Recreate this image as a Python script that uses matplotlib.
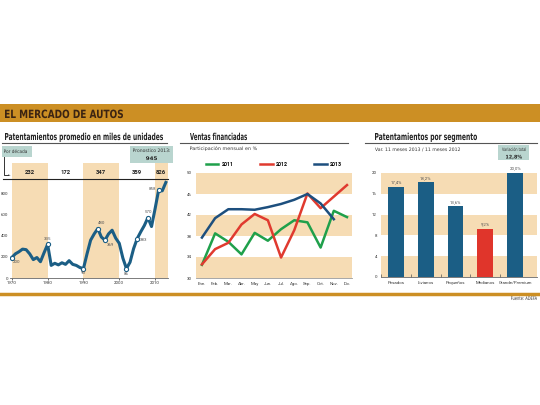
import matplotlib
matplotlib.use("Agg")
import matplotlib.pyplot as plt
from matplotlib.lines import Line2D
from matplotlib.patches import Rectangle, PathPatch
from matplotlib.textpath import TextPath
from matplotlib.font_manager import FontProperties
from matplotlib.transforms import Affine2D

plt.rcParams['font.family'] = ['Roboto', 'DejaVu Sans']

# ---- data ----
years = list(range(1970, 2014))
autos = [195, 230, 250, 275, 270, 230, 175, 195, 155, 240,
         320, 120, 140, 125, 145, 130, 165, 130, 120, 100,
         90, 230, 360, 420, 470, 390, 360, 420, 455, 380,
         330, 190, 90, 150, 280, 375, 440, 500, 575, 490,
         660, 840, 830, 910]
marked_years = [1970, 1980, 1990, 1994, 1996, 2002, 2005, 2008, 2011]
marked_labels = ['200', '335', '90', '480', '369', '86', '383', '570', '858']
decade_centers = [1975, 1985, 1995, 2005, 2011.6]
decade_avgs = ['232', '172', '347', '359', '826']

months = ['Ene.', 'Feb.', 'Mar.', 'Abr.', 'May', 'Jun.', 'Jul.', 'Ago.',
          'Sep.', 'Oct.', 'Nov.', 'Dic.']
fin_2011 = [32.5, 38.5, 36.9, 34.5, 38.6, 37.1, 39.3, 41.0, 40.6, 35.8, 42.8, 41.6]
fin_2012 = [32.6, 35.5, 36.7, 40.2, 42.2, 41.0, 33.9, 39.1, 46.1, 43.3, 45.5, 47.7]
fin_2013 = [37.7, 41.4, 43.1, 43.1, 43.0, 43.5, 44.1, 44.9, 46.0, 44.2, 41.2]

segments = ['Pesados', 'Livianos', 'Pequeños', 'Medianos', 'Grande/Premium']
seg_var = [17.4, 18.2, 13.6, 9.2, 20.0]
seg_labels = ['17,4%', '18,2%', '13,6%', '9,2%', '20,0%']

GOLD = '#cc8f24'
SHADE = '#f6dcb4'
TEAL = '#b9d5cf'
BLUE = '#1b5e85'
DARK = '#333333'

W, H = 540, 405
fig = plt.figure(figsize=(5.4, 4.05), dpi=100)


def fx(px):
    return px / W


def fy(py):
    return 1 - py / H


def ax_px(x0, y0, x1, y1):
    return fig.add_axes([x0 / W, 1 - y1 / H, (x1 - x0) / W, (y1 - y0) / H])


def hline(x0, x1, y, color, lw):
    fig.add_artist(Line2D([fx(x0), fx(x1)], [fy(y), fy(y)], color=color, lw=lw))


def box(x0, y0, x1, y1, color):
    fig.add_artist(Rectangle((fx(x0), fy(y1)), (x1 - x0) / W, (y1 - y0) / H,
                             transform=fig.transFigure, color=color, lw=0))


def ctext(x0, x1, base, s, cap, color, weight='bold'):
    # condensed text: squeeze glyph outlines to fit between x0 and x1
    fp = FontProperties(family='DejaVu Sans', weight=weight)
    tp = TextPath((0, 0), s, size=10, prop=fp)
    ext = tp.get_extents()
    sx = (x1 - x0) / ext.width
    sy = cap / 7.3
    tr = Affine2D().translate(-ext.x0, 0).scale(sx, sy).translate(x0, H - base)
    fig.add_artist(PathPatch(tp, transform=tr, color=color, lw=0))


# header band
box(0, 104, W, 122, GOLD)
ctext(5, 123, 118, 'EL MERCADO DE AUTOS', 8.3, '#3b2412')
hline(0, W, 294, GOLD, 2.5)
ctext(511, 537, 300, 'Fuente: ADEFA', 3.6, DARK, 'normal')

# panel titles
ctext(5, 163, 140, 'Patentamientos promedio en miles de unidades', 7, '#222222')
hline(2, 167, 142.5, '#555555', 0.8)
ctext(190, 247, 140, 'Ventas financiadas', 7, '#222222')
hline(180, 348, 142.5, '#555555', 0.8)
ctext(375, 477, 140, 'Patentamientos por segmento', 7, '#222222')
hline(365, 537, 142.5, '#555555', 0.8)

# ---- panel 1 ----
ax1 = ax_px(10, 163, 168, 278)
ax1.set_xlim(1969.5, 2013.6)
ax1.set_ylim(0, 1095)
for a, b in [(1970, 1980), (1990, 2000), (2010, 2014)]:
    ax1.axvspan(a, b, color=SHADE, lw=0, zorder=0)
ax1.plot(years, autos, color=BLUE, lw=2.2, zorder=2)
mk = [autos[years.index(y)] for y in marked_years]
ax1.scatter(marked_years, mk, s=9, facecolor='white', edgecolor=BLUE, lw=0.8, zorder=3)
offsets = [(1.2, -45), (0, 55), (0, -45), (1.2, 55), (1.5, -45), (0, -48), (1.8, -10),
           (0, 55), (-1.8, 10)]
for yr, v, lab, (dx, dy) in zip(marked_years, mk, marked_labels, offsets):
    ax1.text(yr + dx, v + dy, lab, fontsize=3.2, color='#555555', ha='center', va='center')
for c, lab in zip(decade_centers, decade_avgs):
    ax1.text(c, 1000, lab, fontsize=4.2, fontweight='bold', color='#222222', ha='center', va='center')
ax1.set_yticks([0, 200, 400, 600, 800])
ax1.set_xticks([1970, 1980, 1990, 2000, 2010])
ax1.tick_params(labelsize=3.2, colors=DARK, length=1.5, width=0.5, pad=1)
ax1.tick_params(axis='y', length=0, pad=1.5)
for s in ['top', 'right', 'left']:
    ax1.spines[s].set_visible(False)
ax1.spines['bottom'].set_color('#666666')
ax1.spines['bottom'].set_linewidth(0.6)
ax1.patch.set_alpha(0)

hline(3, 168, 179, '#222222', 0.8)
box(2, 146, 32, 157, TEAL)
ctext(4, 27, 153, 'Por década', 3.4, DARK, 'normal')
fig.add_artist(Line2D([fx(4), fx(4), fx(8)], [fy(157), fy(175), fy(175)], color='#333333', lw=0.7))
fig.text(fx(9), fy(175), '►', fontsize=2.5, color='#333333', va='center', ha='center')
box(130, 146, 173, 163, TEAL)
ctext(133, 170, 152, 'Pronostico 2013:', 3.4, DARK, 'normal')
ctext(146, 157, 160, '945', 3.6, '#222222')

# ---- panel 2 ----
ax2 = ax_px(196, 173, 352, 278)
ax2.set_xlim(-0.45, 11.38)
ax2.set_ylim(30, 50)
for a in [30, 38, 46]:
    ax2.axhspan(a, a + 4, color=SHADE, lw=0, zorder=0)
x = list(range(12))
ax2.plot(x, fin_2011, color='#1fa04b', lw=1.8, label='2011')
ax2.plot(x, fin_2012, color='#e03a2f', lw=1.8, label='2012')
ax2.plot(x[:11], fin_2013, color='#1d4f7e', lw=1.8, label='2013')
ax2.set_xticks(x)
ax2.set_xticklabels(months)
ax2.set_yticks([30, 34, 38, 42, 46, 50])
ax2.tick_params(labelsize=3.2, colors=DARK, length=0, pad=3)
for s in ['top', 'right', 'left']:
    ax2.spines[s].set_visible(False)
ax2.spines['bottom'].set_color('#999999')
ax2.spines['bottom'].set_linewidth(0.6)
ax2.legend(loc='lower center', bbox_to_anchor=(0.5, 1.02), ncol=3, frameon=False,
           handlelength=2.4, columnspacing=5, handletextpad=0.6,
           borderaxespad=0.3, prop={'weight': 'bold', 'size': 3.8})
ctext(190, 257, 150, 'Participación mensual en %', 3.4, DARK, 'normal')

# ---- panel 3 ----
ax3 = ax_px(381, 173, 537, 277)
ax3.set_xlim(-0.5, 4.73)
ax3.set_ylim(0, 20)
for a in [0, 8, 16]:
    ax3.axhspan(a, a + 4, color=SHADE, lw=0, zorder=0)
xb = list(range(len(segments)))
colors = [BLUE, BLUE, BLUE, '#e0352b', BLUE]
ax3.bar(xb, seg_var, width=0.53, color=colors, zorder=2)
for xi, v, lab in zip(xb, seg_var, seg_labels):
    ax3.text(xi, v + 0.5, lab, fontsize=3.2, color='#555555', ha='center', va='bottom')
ax3.set_xticks(xb)
ax3.set_xticklabels(segments)
ax3.set_xticks([0.5, 1.5, 2.5, 3.5, -0.5], minor=True)
ax3.set_yticks([0, 4, 8, 12, 16, 20])
ax3.tick_params(labelsize=3.2, colors=DARK, length=0, pad=3)
ax3.tick_params(axis='x', which='minor', length=2, width=0.5, direction='in', color='#555555')
for s in ['top', 'right', 'left']:
    ax3.spines[s].set_visible(False)
ax3.spines['bottom'].set_color('#666666')
ax3.spines['bottom'].set_linewidth(0.6)
ctext(375, 460, 151, 'Var. 11 meses 2013 / 11 meses 2012', 3.4, DARK, 'normal')
box(498, 145, 529, 160, TEAL)
ctext(502, 526, 151, 'Variación total', 3.4, DARK, 'normal')
ctext(506, 522, 158.5, '12,8%', 3.6, '#222222')

fig.savefig('out.png', dpi=100)
